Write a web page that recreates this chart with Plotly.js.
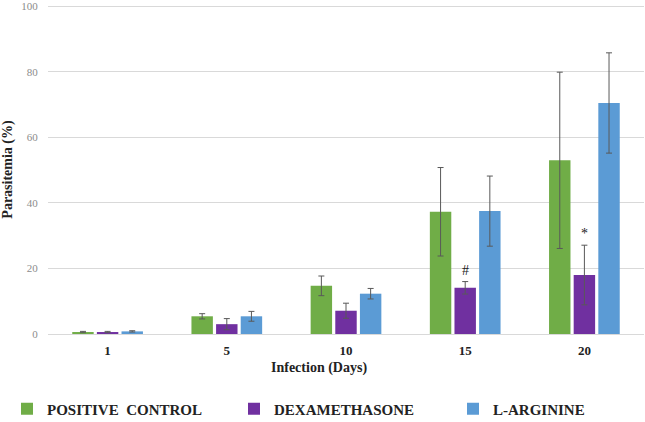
<!DOCTYPE html>
<html>
<head>
<meta charset="utf-8">
<script src="https://cdn.plot.ly/plotly-3.0.1.min.js"></script>
<style>html,body{margin:0;padding:0;background:#fff;}#chart{width:645px;height:422px;}</style>
</head>
<body>
<div id="chart"></div>
<script>
var days = ['1', '5', '10', '15', '20'];
var seriesNames = ['POSITIVE  CONTROL', 'DEXAMETHASONE', 'L-ARGININE'];
var positiveControl = [0.6, 5.4, 14.7, 37.3, 53.0];
var positiveControlErr = [0.2, 0.8, 3.0, 13.5, 26.9];
var dexamethasone = [0.6, 3.0, 7.1, 14.1, 18.0];
var dexamethasoneErr = [0.2, 1.7, 2.3, 1.9, 9.1];
var lArginine = [0.8, 5.4, 12.3, 37.5, 70.5];
var lArginineErr = [0.2, 1.5, 1.6, 10.7, 15.3];
var colors = ['#70AD47', '#7030A0', '#5B9BD5'];
var marks = [{day: '15', text: '#'}, {day: '20', text: '*'}];

var serif = 'Liberation Serif, Times New Roman, serif';
var vals = [positiveControl, dexamethasone, lArginine];
var errs = [positiveControlErr, dexamethasoneErr, lArginineErr];
var legendIds = ['legend', 'legend2', 'legend3'];
var legendX = [7, 234, 453];

var traces = vals.map(function (v, i) {
  return {
    type: 'bar', name: seriesNames[i], x: days, y: v,
    marker: {color: colors[i]}, legend: legendIds[i],
    error_y: {type: 'data', array: errs[i], visible: true, color: '#595959', thickness: 1, width: 3}
  };
});

var annotations = marks.map(function (m) {
  var idx = days.indexOf(m.day);
  return {
    x: idx, y: dexamethasone[idx] + dexamethasoneErr[idx], xref: 'x', yref: 'y',
    text: m.text, showarrow: false, yanchor: 'bottom', yshift: 2,
    font: {family: serif, size: 14, color: '#222'}
  };
});
annotations.push({
  x: (319 - 48) / 596, y: 0, xref: 'paper', yref: 'paper', yanchor: 'top', yshift: -24,
  text: '<b>Infection (Days)</b>', showarrow: false,
  font: {family: serif, size: 14, color: '#222'}
});

var layout = {
  width: 645, height: 422,
  margin: {l: 48, r: 1, t: 5, b: 88, autoexpand: false},
  paper_bgcolor: '#fff', plot_bgcolor: '#fff',
  barmode: 'group', bargap: 0.38, bargroupgap: 0.13,
  showlegend: true,
  xaxis: {
    type: 'category', range: [-0.5, 4.5], showgrid: false, showline: true, linecolor: '#d9d9d9', linewidth: 1,
    ticks: '', tickfont: {family: serif, size: 13, color: '#222', weight: 'bold'},
    ticklabelstandoff: 4
  },
  yaxis: {
    range: [0, 100.4], tickvals: [0, 20, 40, 60, 80, 100], showgrid: true, gridcolor: '#d9d9d9', gridwidth: 1,
    zeroline: false, showline: false,
    ticks: 'outside', ticklen: 7, tickcolor: 'rgba(0,0,0,0)', ticklabeloverflow: 'allow',
    tickfont: {family: serif, size: 11, color: '#8c8c8c'},
    title: {text: '<b>Parasitemia (%)</b>', font: {family: serif, size: 14, color: '#222'}, standoff: 6}
  },
  annotations: annotations
};
legendIds.forEach(function (id, i) {
  layout[id] = {
    orientation: 'h', x: legendX[i] / 645, xanchor: 'left', y: 1 - 409 / 422, yanchor: 'middle',
    xref: 'container', yref: 'container', itemwidth: 30,
    font: {family: serif, size: 15, color: '#222', weight: 'bold'}
  };
});

Plotly.newPlot('chart', traces, layout, {displayModeBar: false, staticPlot: true});
</script>
</body>
</html>
